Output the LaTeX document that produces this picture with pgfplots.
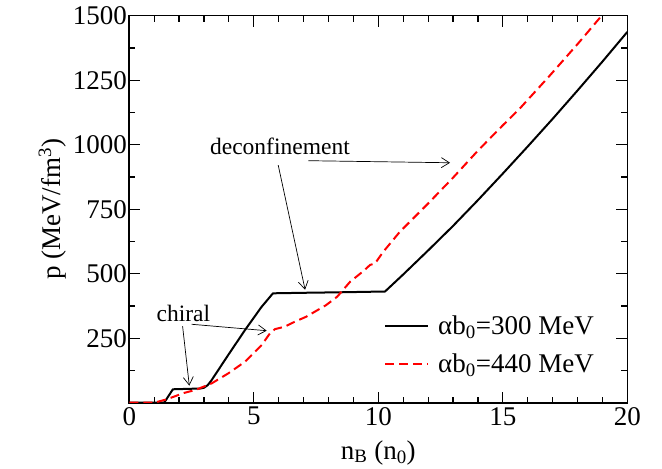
\documentclass[border=0pt]{standalone}
\usepackage{pgfplots}
\pgfplotsset{compat=1.18}
\usepackage{fontspec}
\setmainfont{Liberation Serif}
\usetikzlibrary{arrows.meta}

\newcommand{\bigfont}{\fontsize{27bp}{31bp}\selectfont}
\newcommand{\notefont}{\fontsize{23.5bp}{27bp}\selectfont}

\begin{document}
\begin{tikzpicture}
\begin{axis}[
  name=main,
  scale only axis,
  width=498bp, height=387bp,
  xmin=0, xmax=20, ymin=0, ymax=1500,
  xtick={0,5,...,20},
  minor xtick={1,2,3,4,6,7,8,9,11,12,13,14,16,17,18,19},
  ytick={250,500,...,1500},
  minor ytick={125,375,...,1375},
  tick align=inside,
  xtick pos=both, ytick pos=both,
  major tick length=11bp, minor tick length=6bp,
  every tick/.style={black, line width=1.2bp},
  axis line style={line width=1.6bp},
  scaled ticks=false,
  /pgf/number format/1000 sep={},
  /pgf/number format/assume math mode=true,
  tick label style={font=\bigfont},
  xticklabel style={yshift=-1bp},
  yticklabel style={xshift=1bp},
  label style={font=\bigfont},
  xlabel={n\textsubscript{B} (n\textsubscript{0})},
  xlabel style={yshift=-8bp},
  ylabel={p (MeV/fm\textsuperscript{3})},
  legend style={draw=none, fill=none, at={(axis cs:10.23,345)}, anchor=north west,
    font=\bigfont, row sep=14bp, inner sep=0pt},
  legend cell align=left,
  legend image code/.code={\draw[#1] (0bp,0bp) -- (43bp,0bp); \path (50bp,0bp);},
]
% alpha b0 = 300 MeV
\addplot[black, line width=2bp, line join=round] coordinates {
  (0,0) (1.4,0) (1.75,52) (2.85,55) (3.0,58) (3.15,68) (3.31,88)
  (3.98,186) (4.65,282) (5.3,370) (5.77,424) (7,426) (8.5,428)
  (10.27,431) (11,497) (12,590) (13,685) (14,785) (15,888) (16,993)
  (17,1100) (18,1210) (19,1322) (20,1437)
};
\addlegendentry{αb\textsubscript{0}=300 MeV}
% alpha b0 = 440 MeV
\addplot[red, line width=2bp, line join=round, dash pattern=on 9bp off 5bp] coordinates {
  (0,0) (1.0,0) (1.5,13) (2.2,38) (2.65,49) (3.31,75) (3.98,114)
  (4.65,159) (5.32,224) (5.65,269) (5.85,285) (6.25,295) (6.65,314)
  (7.1,333) (7.9,378) (8.35,411) (8.87,469) (9.4,510) (9.67,534)
  (9.87,540) (10.2,585) (10.87,663) (12.01,773) (13.0,872) (14.02,979)
  (15.0,1075) (15.69,1141) (16.86,1265) (18.03,1393) (18.97,1500)
};
\addlegendentry{αb\textsubscript{0}=440 MeV}

% annotations
\node[font=\notefont] at (axis cs:2.17,346) {chiral};
\draw[-{Straight Barb[length=8bp,width=10bp]}, line width=0.7bp]
  (axis cs:2.14,297) -- (axis cs:2.41,66);
\draw[-{Straight Barb[length=8bp,width=10bp]}, line width=0.7bp]
  (axis cs:2.5,304) -- (axis cs:5.52,279);
\node[font=\notefont] at (axis cs:6.05,992) {deconfinement};
\draw[-{Straight Barb[length=8bp,width=10bp]}, line width=0.7bp]
  (axis cs:5.98,921) -- (axis cs:7.06,438);
\draw[-{Straight Barb[length=8bp,width=10bp]}, line width=0.7bp]
  (axis cs:7.19,938) -- (axis cs:12.88,930);
\end{axis}
\pgfresetboundingbox
\path[use as bounding box] (main.south west) ++(-129.3bp,-66.3bp) rectangle ++(662bp,469bp);
\end{tikzpicture}
\end{document}
